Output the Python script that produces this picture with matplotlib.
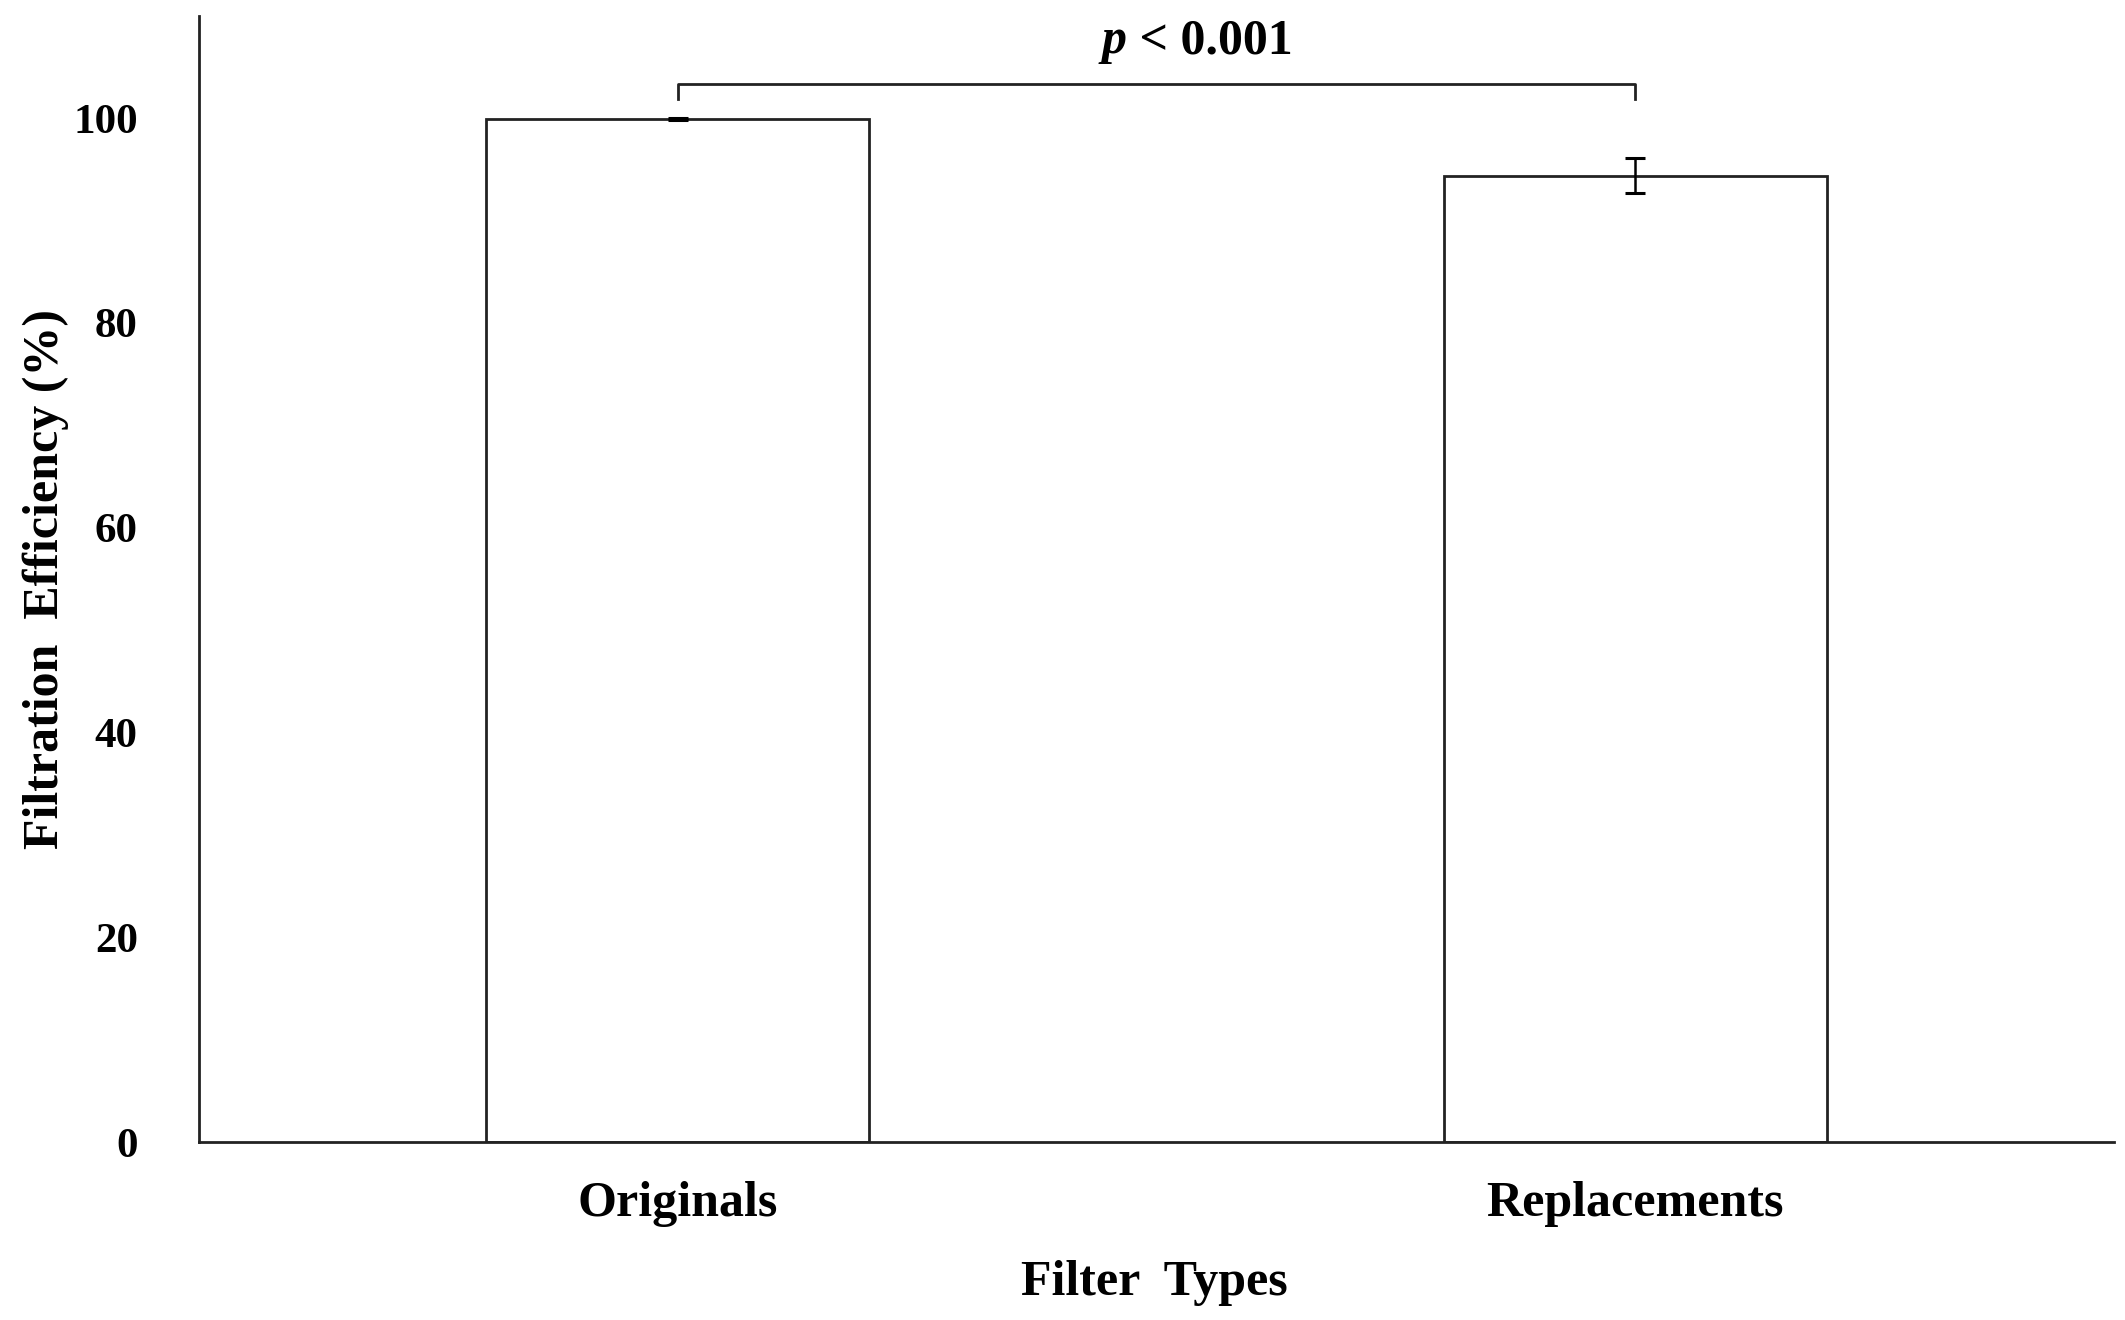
import matplotlib
matplotlib.use("Agg")
import matplotlib.pyplot as plt

categories = ["Originals", "Replacements"]
means = [99.9, 94.4]
errors = [0.1, 1.7]
y_ticks = [0, 20, 40, 60, 80, 100]
p_text = "p"
p_rest = " < 0.001"
bracket_y = 103.3
bracket_drop = 101.9

plt.rcParams['font.family'] = ['Liberation Serif', 'DejaVu Serif']
plt.rcParams['font.weight'] = 'bold'

fig = plt.figure(figsize=(21.25, 13.2), dpi=100)
ax = fig.add_axes([0.0936, 0.1348, 0.9012, 0.8532])

x = list(range(len(categories)))
ax.bar(x, means, width=0.4, color='white', edgecolor='#222222', linewidth=2.0, zorder=2)
ax.errorbar(x, means, yerr=errors, fmt='none', ecolor='black', elinewidth=1.8,
            capsize=7, capthick=2.2, zorder=3)

# significance bracket
ax.plot([x[0], x[0], x[1], x[1]], [bracket_drop, bracket_y, bracket_y, bracket_drop],
        color='#222222', linewidth=2.0, clip_on=False)
ax.text(0.469, 107.5, p_text, ha='right', va='center', fontsize=36,
        fontstyle='italic', fontweight='bold')
ax.text(0.469, 107.5, p_rest, ha='left', va='center', fontsize=36, fontweight='bold')

ax.set_xlim(-0.5, 1.5)
ax.set_ylim(0, 110)
ax.set_yticks(y_ticks)
ax.set_yticklabels([str(v) for v in y_ticks], fontsize=31, fontweight='bold')
ax.set_xticks(x)
ax.set_xticklabels(categories, fontsize=36, fontweight='bold')
ax.tick_params(axis='y', length=0, pad=44)
ax.tick_params(axis='x', length=0, pad=28)

for s in ['top', 'right']:
    ax.spines[s].set_visible(False)
for s in ['left', 'bottom']:
    ax.spines[s].set_linewidth(2.0)
    ax.spines[s].set_color('#222222')

ax.set_ylabel("Filtration  Efficiency (%)", fontsize=36, fontweight='bold', labelpad=30)
ax.set_xlabel("Filter  Types", fontsize=36, fontweight='bold', labelpad=20)
ax.yaxis.set_label_coords(-0.068, 0.5)
ax.xaxis.set_label_coords(0.499, -0.105)

fig.savefig("out.png", dpi=100)
